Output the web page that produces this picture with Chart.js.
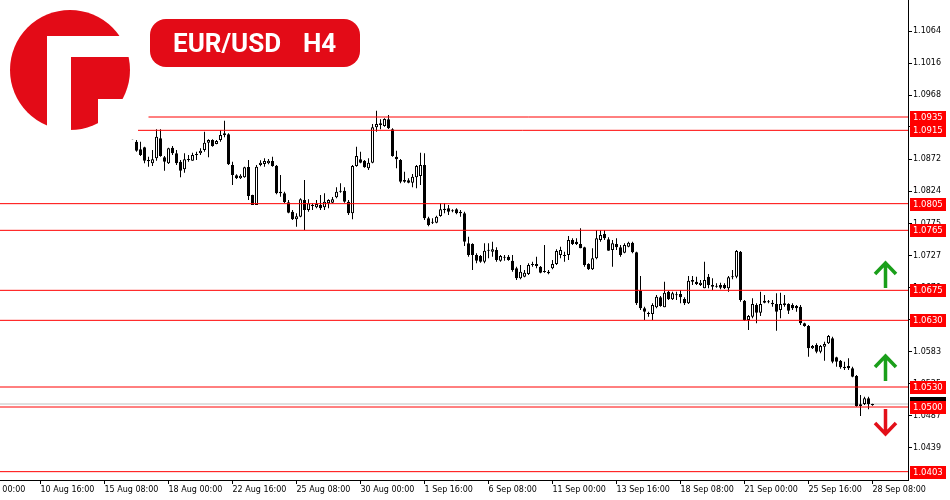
<!DOCTYPE html>
<html>
<head>
<meta charset="utf-8">
<title>EUR/USD H4</title>
<script src="https://cdn.jsdelivr.net/npm/chart.js@4.4.0/dist/chart.umd.min.js"></script>
<style>
  html, body { margin: 0; padding: 0; background: #fff; }
  canvas { display: block; }
</style>
</head>
<body>
<canvas id="chart" width="950" height="500"></canvas>
<script>
// H4 candles, bar index 0 = 10 Aug 16:00
var firstBar = 23;
var opens = [
  1.09105, 1.08980, 1.08865, 1.08895, 1.08705, 1.08655, 1.08730, 1.09030, 1.08745, 1.08655,
  1.08890, 1.08805, 1.08680, 1.08565, 1.08715, 1.08695, 1.08780, 1.08805, 1.08855, 1.08965,
  1.09005, 1.08945, 1.09005, 1.09080, 1.09090, 1.08630, 1.08475, 1.08430, 1.08445, 1.08600,
  1.08180, 1.08030, 1.08630, 1.08645, 1.08655, 1.08690, 1.08620, 1.08205, 1.08205, 1.08070,
  1.07930, 1.07815, 1.07855, 1.08105, 1.07955, 1.08015, 1.07995, 1.08030, 1.07995, 1.08055,
  1.08065, 1.08145, 1.08245, 1.08245, 1.08080, 1.07905, 1.08615, 1.08715, 1.08695, 1.08580,
  1.08665, 1.09195, 1.09230, 1.09215, 1.09315, 1.09165, 1.08755, 1.08705, 1.08405, 1.08400,
  1.08365, 1.08445, 1.08465, 1.08630, 1.07830, 1.07770, 1.07765, 1.07865, 1.07955, 1.07980,
  1.07945, 1.07965, 1.07930, 1.07905, 1.07455, 1.07445, 1.07280, 1.07265, 1.07180, 1.07345,
  1.07330, 1.07355, 1.07195, 1.07255, 1.07255, 1.07195, 1.07080, 1.06930, 1.06955, 1.06995,
  1.07130, 1.07115, 1.07105, 1.07030, 1.07030, 1.07080, 1.07145, 1.07280, 1.07280, 1.07280,
  1.07505, 1.07480, 1.07445, 1.07395, 1.07145, 1.07065, 1.07230, 1.07505, 1.07595, 1.07515,
  1.07355, 1.07445, 1.07395, 1.07315, 1.07405, 1.07465, 1.07320, 1.06745, 1.06480, 1.06405,
  1.06395, 1.06495, 1.06645, 1.06495, 1.06730, 1.06615, 1.06690, 1.06695, 1.06620, 1.06555,
  1.06880, 1.06880, 1.06830, 1.06780, 1.06955, 1.06830, 1.06805, 1.06830, 1.06830, 1.06780,
  1.06945, 1.06955, 1.07330, 1.06595, 1.06305, 1.06355, 1.06530, 1.06415, 1.06595, 1.06580,
  1.06565, 1.06545, 1.06455, 1.06555, 1.06545, 1.06530, 1.06515, 1.06505, 1.06255, 1.06215,
  1.05880, 1.05930, 1.05830, 1.05905, 1.05955, 1.06030, 1.05745, 1.05695, 1.05605, 1.05615,
  1.05580, 1.05465, 1.05040, 1.05045, 1.05130, 1.05045
];
var highs = [
  1.09115, 1.09005, 1.08980, 1.08905, 1.08755, 1.08855, 1.09165, 1.09165, 1.08765, 1.08890,
  1.08915, 1.08855, 1.08705, 1.08805, 1.08780, 1.08815, 1.08830, 1.08880, 1.09130, 1.09015,
  1.09015, 1.09005, 1.09155, 1.09295, 1.09105, 1.08680, 1.08490, 1.08490, 1.08605, 1.08705,
  1.08185, 1.08630, 1.08700, 1.08730, 1.08720, 1.08755, 1.08630, 1.08480, 1.08230, 1.08105,
  1.07955, 1.07905, 1.08130, 1.08405, 1.08115, 1.08055, 1.08105, 1.08180, 1.08205, 1.08115,
  1.08150, 1.08295, 1.08355, 1.08295, 1.08105, 1.08630, 1.08905, 1.08830, 1.08705, 1.08730,
  1.09245, 1.09445, 1.09315, 1.09330, 1.09380, 1.09180, 1.08845, 1.08720, 1.08530, 1.08430,
  1.08495, 1.08630, 1.08815, 1.08805, 1.07855, 1.07830, 1.07870, 1.08055, 1.08055, 1.08030,
  1.07965, 1.07980, 1.07955, 1.07930, 1.07555, 1.07455, 1.07305, 1.07280, 1.07455, 1.07455,
  1.07480, 1.07395, 1.07280, 1.07280, 1.07280, 1.07280, 1.07105, 1.07130, 1.07055, 1.07155,
  1.07180, 1.07255, 1.07115, 1.07430, 1.07055, 1.07205, 1.07365, 1.07405, 1.07330, 1.07565,
  1.07530, 1.07530, 1.07680, 1.07405, 1.07155, 1.07380, 1.07655, 1.07655, 1.07655, 1.07545,
  1.07505, 1.07530, 1.07430, 1.07455, 1.07480, 1.07480, 1.07330, 1.06965, 1.06505, 1.06430,
  1.06555, 1.06680, 1.06665, 1.06880, 1.06745, 1.06730, 1.06730, 1.06755, 1.06645, 1.06965,
  1.06965, 1.06955, 1.06905, 1.07180, 1.06995, 1.06930, 1.06855, 1.06865, 1.06855, 1.06965,
  1.07055, 1.07355, 1.07340, 1.06605, 1.06380, 1.06630, 1.06555, 1.06730, 1.06680, 1.06605,
  1.06605, 1.06705, 1.06715, 1.06680, 1.06555, 1.06555, 1.06530, 1.06530, 1.06265, 1.06230,
  1.05930, 1.05955, 1.05930, 1.05980, 1.06080, 1.06055, 1.05755, 1.05705, 1.05680, 1.05730,
  1.05605, 1.05480, 1.05180, 1.05155, 1.05155, 1.05050
];
var lows = [
  1.09015, 1.08830, 1.08765, 1.08655, 1.08605, 1.08615, 1.08695, 1.08755, 1.08545, 1.08645,
  1.08780, 1.08630, 1.08445, 1.08515, 1.08680, 1.08695, 1.08705, 1.08780, 1.08830, 1.08745,
  1.08905, 1.08940, 1.08980, 1.09045, 1.08630, 1.08330, 1.08420, 1.08420, 1.08440, 1.08105,
  1.08030, 1.08030, 1.08610, 1.08605, 1.08640, 1.08605, 1.08190, 1.08155, 1.08060, 1.07905,
  1.07805, 1.07705, 1.07845, 1.07655, 1.07930, 1.07955, 1.07980, 1.07955, 1.07955, 1.07980,
  1.08055, 1.08130, 1.08215, 1.08065, 1.07880, 1.07815, 1.08605, 1.08655, 1.08590, 1.08555,
  1.08655, 1.09130, 1.09165, 1.09205, 1.09170, 1.08755, 1.08580, 1.08355, 1.08365, 1.08355,
  1.08295, 1.08280, 1.08330, 1.07805, 1.07710, 1.07745, 1.07755, 1.07855, 1.07905, 1.07880,
  1.07920, 1.07890, 1.07855, 1.07415, 1.07255, 1.07055, 1.07155, 1.07165, 1.07155, 1.07230,
  1.07255, 1.07180, 1.07180, 1.07195, 1.07195, 1.07030, 1.06905, 1.06915, 1.06945, 1.06980,
  1.07105, 1.07080, 1.07005, 1.07015, 1.06990, 1.07065, 1.07130, 1.07230, 1.07180, 1.07205,
  1.07430, 1.07430, 1.07380, 1.07105, 1.07055, 1.07055, 1.07215, 1.07480, 1.07505, 1.07345,
  1.07105, 1.07355, 1.07255, 1.07305, 1.07395, 1.07305, 1.06530, 1.06455, 1.06305, 1.06355,
  1.06305, 1.06480, 1.06505, 1.06495, 1.06605, 1.06605, 1.06605, 1.06555, 1.06530, 1.06545,
  1.06830, 1.06830, 1.06815, 1.06780, 1.06780, 1.06755, 1.06790, 1.06765, 1.06770, 1.06730,
  1.06915, 1.06930, 1.06580, 1.06295, 1.06155, 1.06330, 1.06255, 1.06365, 1.06555, 1.06555,
  1.06505, 1.06145, 1.06330, 1.06505, 1.06395, 1.06455, 1.06430, 1.06230, 1.06205, 1.05755,
  1.05870, 1.05805, 1.05805, 1.05695, 1.05945, 1.05655, 1.05605, 1.05575, 1.05555, 1.05555,
  1.05445, 1.05005, 1.04865, 1.05030, 1.04965, 1.05020
];
var closes = [
  1.09015, 1.08845, 1.08780, 1.08695, 1.08685, 1.08715, 1.09055, 1.08765, 1.08680, 1.08880,
  1.08805, 1.08655, 1.08545, 1.08715, 1.08705, 1.08780, 1.08795, 1.08845, 1.08965, 1.09005,
  1.08915, 1.08990, 1.09080, 1.09105, 1.08640, 1.08480, 1.08430, 1.08470, 1.08595, 1.08165,
  1.08030, 1.08605, 1.08665, 1.08690, 1.08695, 1.08615, 1.08205, 1.08230, 1.08070, 1.07915,
  1.07815, 1.07860, 1.08115, 1.07955, 1.08055, 1.08030, 1.08045, 1.07980, 1.08080, 1.08105,
  1.08115, 1.08230, 1.08230, 1.08080, 1.07905, 1.08615, 1.08765, 1.08665, 1.08595, 1.08665,
  1.09195, 1.09245, 1.09255, 1.09320, 1.09180, 1.08765, 1.08715, 1.08380, 1.08380, 1.08365,
  1.08455, 1.08615, 1.08630, 1.07830, 1.07730, 1.07765, 1.07855, 1.07965, 1.07975, 1.07930,
  1.07935, 1.07905, 1.07905, 1.07480, 1.07280, 1.07280, 1.07195, 1.07180, 1.07345, 1.07355,
  1.07365, 1.07205, 1.07265, 1.07240, 1.07205, 1.07055, 1.06930, 1.07030, 1.07015, 1.07130,
  1.07140, 1.07145, 1.07015, 1.07025, 1.07005, 1.07145, 1.07340, 1.07355, 1.07265, 1.07505,
  1.07445, 1.07445, 1.07380, 1.07130, 1.07065, 1.07230, 1.07530, 1.07580, 1.07530, 1.07345,
  1.07455, 1.07395, 1.07280, 1.07430, 1.07465, 1.07320, 1.06555, 1.06480, 1.06430, 1.06395,
  1.06530, 1.06655, 1.06515, 1.06715, 1.06615, 1.06705, 1.06675, 1.06645, 1.06555, 1.06895,
  1.06905, 1.06845, 1.06865, 1.06905, 1.06830, 1.06805, 1.06820, 1.06790, 1.06780, 1.06945,
  1.06955, 1.07340, 1.06605, 1.06305, 1.06365, 1.06545, 1.06415, 1.06545, 1.06565, 1.06570,
  1.06540, 1.06430, 1.06545, 1.06530, 1.06445, 1.06480, 1.06480, 1.06255, 1.06215, 1.05880,
  1.05915, 1.05830, 1.05915, 1.05945, 1.06065, 1.05680, 1.05680, 1.05595, 1.05580, 1.05580,
  1.05455, 1.05015, 1.05015, 1.05130, 1.05045, 1.05025
];

// time axis labels (bar index of each label)
var xTickBars = [-16, 0, 16, 32, 48, 64, 80, 96, 112, 128, 144, 160, 176, 192, 208];
var xTickLabels = ['8 Aug 00:00', '10 Aug 16:00', '15 Aug 08:00', '18 Aug 00:00', '22 Aug 16:00',
  '25 Aug 08:00', '30 Aug 00:00', '1 Sep 16:00', '6 Sep 08:00', '11 Sep 00:00', '13 Sep 16:00',
  '18 Sep 08:00', '21 Sep 00:00', '25 Sep 16:00', '28 Sep 08:00'];
var yTickLabels = ['1.0439', '1.0487', '1.0535', '1.0583', '1.0631', '1.0679', '1.0727',
  '1.0775', '1.0824', '1.0872', '1.0920', '1.0968', '1.1016', '1.1064'];

// horizontal levels and where they start (null = whole chart)
var levelPrices = [1.0935, 1.0915, 1.0805, 1.0765, 1.0675, 1.0630, 1.0530, 1.0500, 1.0403];
var levelStartBars = [27, 24, null, null, null, null, null, null, null];
var bidPrice = 1.05045;

var X_MIN = -10.125, X_MAX = 216.875;
var Y_MIN = 1.03905, Y_MAX = 1.11105;

var wicks = [], bodies = [], bodyColors = [];
for (var i = 0; i < opens.length; i++) {
  var bar = firstBar + i;
  wicks.push({ x: bar, y: [lows[i], highs[i]] });
  bodies.push({ x: bar, y: [Math.min(opens[i], closes[i]), Math.max(opens[i], closes[i])] });
  bodyColors.push(closes[i] >= opens[i] ? '#ffffff' : '#000000');
}

var datasets = [
  {
    type: 'bar', data: bodies, order: 1, grouped: false,
    barThickness: 3, minBarLength: 1, inflateAmount: 0,
    backgroundColor: bodyColors, borderColor: '#000', borderWidth: 1, borderSkipped: false
  },
  {
    type: 'bar', data: wicks, order: 2, grouped: false,
    barThickness: 1, inflateAmount: 0, backgroundColor: '#000', borderWidth: 0
  },
  {
    type: 'line', data: [{ x: X_MIN, y: bidPrice }, { x: X_MAX, y: bidPrice }], order: 3,
    borderColor: '#c0c0c0', borderWidth: 1, pointRadius: 0
  }
];
levelPrices.forEach(function (p, k) {
  var start = levelStartBars[k] === null ? X_MIN : levelStartBars[k];
  datasets.push({
    type: 'line', data: [{ x: start, y: p }, { x: X_MAX, y: p }], order: 0,
    borderColor: '#ff0000', borderWidth: 1, pointRadius: 0
  });
});

function arrow(c, x, y1, y2, up, color) {
  c.strokeStyle = color;
  c.lineWidth = 3.5;
  c.beginPath();
  c.moveTo(x, y1); c.lineTo(x, y2);
  var tip = up ? y1 : y2, d = up ? 11 : -11;
  c.moveTo(x - 10.5, tip + d); c.lineTo(x, tip); c.lineTo(x + 10.5, tip + d);
  c.stroke();
}

var decorations = {
  id: 'decorations',
  afterDraw: function (chart) {
    var c = chart.ctx, ys = chart.scales.y;
    c.save();

    // price labels on the axis
    var yb = Math.round(ys.getPixelForValue(bidPrice));
    c.fillStyle = '#000';
    c.fillRect(910, yb - 7, 36, 13);
    c.font = '8.5px "DejaVu Sans"';
    c.textBaseline = 'middle';
    levelPrices.forEach(function (p) {
      var y = Math.round(ys.getPixelForValue(p));
      c.fillStyle = '#ff0000';
      c.fillRect(910, y - 6, 36, 13);
      c.fillStyle = '#fff';
      c.fillText(p.toFixed(4), 913, y + 0.5);
    });

    // logo
    var red = '#e30b17';
    c.fillStyle = red;
    c.beginPath();
    c.arc(70, 70, 60, 0, Math.PI * 2);
    c.fill();
    c.fillStyle = '#fff';
    c.fillRect(47, 36, 24, 100);
    c.fillRect(47, 36, 95, 21);
    c.fillRect(98, 99, 40, 40);

    // title
    c.fillStyle = red;
    c.beginPath();
    c.roundRect(150, 19, 210, 48, 16);
    c.fill();
    c.fillStyle = '#fff';
    c.font = 'bold 26px Roboto';
    c.textBaseline = 'alphabetic';
    c.fillText('EUR/USD', 173, 52);
    c.fillText('H4', 303, 52);

    // arrows
    arrow(c, 885.5, 263, 288, true, '#1a9f1a');
    arrow(c, 885.5, 356, 381, true, '#1a9f1a');
    arrow(c, 885.5, 409, 434, false, '#e31019');

    c.restore();
  }
};

var axisFont = { family: 'DejaVu Sans', size: 8 };

new Chart(document.getElementById('chart'), {
  type: 'bar',
  data: { datasets: datasets },
  options: {
    responsive: false,
    animation: false,
    layout: { padding: 0 },
    plugins: { legend: { display: false }, tooltip: { enabled: false } },
    scales: {
      x: {
        type: 'linear', min: X_MIN, max: X_MAX, bounds: 'data', offset: false,
        grid: { drawOnChartArea: false, drawTicks: true, tickLength: 4, tickColor: '#000', offset: false },
        border: { display: true, color: '#000', width: 1 },
        ticks: {
          autoSkip: false, maxRotation: 0, align: 'start', padding: 1, color: '#000', font: axisFont,
          callback: function (v) { var k = xTickBars.indexOf(v); return k < 0 ? '' : xTickLabels[k]; }
        },
        afterBuildTicks: function (s) { s.ticks = xTickBars.map(function (b) { return { value: b }; }); },
        afterFit: function (s) { s.height = 20; s.paddingLeft = 0; s.paddingRight = 0; }
      },
      y: {
        type: 'linear', position: 'right', min: Y_MIN, max: Y_MAX, bounds: 'data',
        grid: { drawOnChartArea: false, drawTicks: true, tickLength: 4, tickColor: '#000' },
        border: { display: true, color: '#000', width: 1 },
        ticks: {
          padding: 1, color: '#000', font: axisFont,
          callback: function (v, k) { return yTickLabels[k]; }
        },
        afterBuildTicks: function (s) { s.ticks = yTickLabels.map(function (t) { return { value: parseFloat(t) }; }); },
        afterFit: function (s) { s.width = 42; s.paddingTop = 0; s.paddingBottom = 0; }
      }
    }
  },
  plugins: [decorations]
});
</script>
</body>
</html>
